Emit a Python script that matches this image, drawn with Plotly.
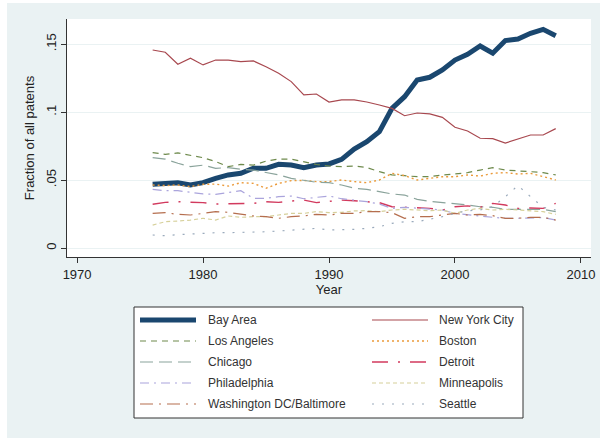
import plotly.graph_objects as go

years = list(range(1976, 2009))

bay_area = [0.0469, 0.0476, 0.0481, 0.0464, 0.0481, 0.0513, 0.0538, 0.0550, 0.0587, 0.0587,
            0.0616, 0.0611, 0.0592, 0.0611, 0.0619, 0.0653, 0.0729, 0.0783, 0.0857, 0.1028,
            0.1114, 0.1237, 0.1257, 0.1311, 0.1384, 0.1426, 0.1487, 0.1434, 0.1527, 0.1539,
            0.1581, 0.1610, 0.1563]
new_york = [0.1458, 0.1441, 0.1353, 0.1397, 0.1348, 0.1384, 0.1384, 0.1372, 0.1377, 0.1335,
            0.1286, 0.1225, 0.1127, 0.1134, 0.1075, 0.1090, 0.1090, 0.1075, 0.1053, 0.1028,
            0.0974, 0.0994, 0.0987, 0.0962, 0.0889, 0.0862, 0.0808, 0.0805, 0.0773, 0.0803,
            0.0832, 0.0832, 0.0879]
los_angeles = [0.0702, 0.0690, 0.0700, 0.0685, 0.0665, 0.0636, 0.0599, 0.0616, 0.0610, 0.0640,
               0.0655, 0.0655, 0.0636, 0.0615, 0.0604, 0.0599, 0.0604, 0.0592, 0.0562, 0.0538,
               0.0533, 0.0525, 0.0525, 0.0538, 0.0545, 0.0555, 0.0574, 0.0592, 0.0574, 0.0570,
               0.0562, 0.0555, 0.0538]
boston = [0.0464, 0.0460, 0.0464, 0.0452, 0.0469, 0.0471, 0.0456, 0.0481, 0.0476, 0.0440,
          0.0476, 0.0496, 0.0498, 0.0489, 0.0489, 0.0501, 0.0489, 0.0481, 0.0501, 0.0550,
          0.0533, 0.0501, 0.0513, 0.0525, 0.0525, 0.0538, 0.0530, 0.0550, 0.0555, 0.0545,
          0.0550, 0.0525, 0.0501]
chicago = [0.0665, 0.0655, 0.0624, 0.0599, 0.0610, 0.0587, 0.0592, 0.0580, 0.0574, 0.0557,
           0.0538, 0.0513, 0.0496, 0.0484, 0.0481, 0.0464, 0.0440, 0.0432, 0.0415, 0.0398,
           0.0390, 0.0358, 0.0344, 0.0336, 0.0329, 0.0317, 0.0304, 0.0300, 0.0285, 0.0285,
           0.0285, 0.0285, 0.0268]
detroit = [0.0322, 0.0336, 0.0341, 0.0339, 0.0334, 0.0324, 0.0324, 0.0324, 0.0329, 0.0341,
           0.0336, 0.0346, 0.0353, 0.0334, 0.0346, 0.0353, 0.0348, 0.0341, 0.0334, 0.0304,
           0.0300, 0.0295, 0.0292, 0.0280, 0.0304, 0.0310, 0.0300, 0.0329, 0.0317, 0.0292,
           0.0295, 0.0292, 0.0329]
philadelphia = [0.0432, 0.0422, 0.0422, 0.0410, 0.0398, 0.0395, 0.0410, 0.0422, 0.0366, 0.0366,
                0.0378, 0.0383, 0.0363, 0.0373, 0.0383, 0.0363, 0.0353, 0.0341, 0.0324, 0.0292,
                0.0300, 0.0292, 0.0285, 0.0280, 0.0255, 0.0243, 0.0236, 0.0226, 0.0219, 0.0219,
                0.0219, 0.0224, 0.0206]
minneapolis = [0.0169, 0.0194, 0.0199, 0.0206, 0.0219, 0.0206, 0.0236, 0.0226, 0.0231, 0.0231,
               0.0243, 0.0255, 0.0255, 0.0268, 0.0260, 0.0263, 0.0273, 0.0275, 0.0268, 0.0280,
               0.0285, 0.0280, 0.0275, 0.0280, 0.0255, 0.0280, 0.0292, 0.0280, 0.0285, 0.0280,
               0.0275, 0.0268, 0.0248]
washington = [0.0255, 0.0260, 0.0248, 0.0243, 0.0255, 0.0268, 0.0263, 0.0248, 0.0236, 0.0231,
              0.0219, 0.0231, 0.0236, 0.0248, 0.0243, 0.0255, 0.0255, 0.0268, 0.0268, 0.0260,
              0.0219, 0.0231, 0.0231, 0.0243, 0.0255, 0.0243, 0.0248, 0.0238, 0.0219, 0.0219,
              0.0226, 0.0226, 0.0206]
seattle = [0.0096, 0.0091, 0.0098, 0.0103, 0.0113, 0.0113, 0.0113, 0.0115, 0.0115, 0.0120,
           0.0125, 0.0133, 0.0138, 0.0145, 0.0133, 0.0133, 0.0138, 0.0145, 0.0157, 0.0182,
           0.0194, 0.0194, 0.0211, 0.0231, 0.0255, 0.0275, 0.0280, 0.0304, 0.0378, 0.0460,
           0.0378, 0.0300, 0.0280]

x_ticks = [1970, 1980, 1990, 2000, 2010]
y_ticks = [0, 0.05, 0.1, 0.15]
y_tick_labels = ["0", ".05", ".1", ".15"]

series = [
    ("Bay Area", bay_area, "#1a476f", 5, "solid"),
    ("New York City", new_york, "#a8484f", 1.2, "solid"),
    ("Los Angeles", los_angeles, "#6e8a4c", 1.2, "6px,5px"),
    ("Boston", boston, "#eb9a3a", 1.4, "2px,3px"),
    ("Chicago", chicago, "#8aa39b", 1.2, "13px,6px"),
    ("Detroit", detroit, "#d23a5e", 1.4, "16px,10px,2px,10px"),
    ("Philadelphia", philadelphia, "#aaa4dc", 1.2, "9px,5px,2px,5px"),
    ("Minneapolis", minneapolis, "#d6d09a", 1.2, "4px,3px"),
    ("Washington DC/Baltimore", washington, "#b56e4e", 1.2, "13px,6px,2px,6px"),
    ("Seattle", seattle, "#9aaabc", 1.2, "2px,8px"),
]

fig = go.Figure()
for name, vals, color, width, dash in series:
    fig.add_trace(go.Scatter(x=years, y=vals, mode="lines", name=name, showlegend=False,
                             line=dict(color=color, width=width, dash=dash)))

L, R, T, B = 67, 9, 19, 181
W, H = 600, 438
pw, ph = W - L - R, H - T - B

def px(xp):
    return (xp - L) / pw

def py(yp):
    return (H - B - yp) / ph

shapes = [
    dict(type="rect", xref="paper", yref="paper", x0=px(0), x1=px(7), y0=py(H), y1=py(0),
         fillcolor="white", line=dict(width=0), layer="below"),
    dict(type="rect", xref="paper", yref="paper", x0=px(0), x1=px(W), y0=py(3), y1=py(0),
         fillcolor="white", line=dict(width=0), layer="below"),
    # legend box
    dict(type="rect", xref="paper", yref="paper", x0=px(134), x1=px(523), y0=py(418), y1=py(307),
         fillcolor="white", line=dict(color="#333", width=1), layer="above"),
]
annotations = []
row_y = [320, 341, 362, 383, 404]
col_sym = [(140, 196, 206), (372, 428, 437)]
for i, (name, vals, color, width, dash) in enumerate(series):
    r, c = divmod(i, 2)
    x0, x1, xt = col_sym[c]
    y = row_y[r]
    shapes.append(dict(type="line", xref="paper", yref="paper", x0=px(x0), x1=px(x1),
                       y0=py(y), y1=py(y), layer="above",
                       line=dict(color=color, width=width, dash=dash)))
    annotations.append(dict(xref="paper", yref="paper", x=px(xt), y=py(y), text=name,
                            showarrow=False, xanchor="left", yanchor="middle",
                            font=dict(size=12, color="#333")))

fig.update_layout(
    width=W, height=H,
    margin=dict(l=L, r=R, t=T, b=B, autoexpand=False),
    paper_bgcolor="#eaf2f3",
    plot_bgcolor="white",
    font=dict(family="Liberation Sans, Arial, sans-serif", size=13, color="#222"),
    showlegend=False,
    xaxis=dict(
        range=[1969.2, 2010.8], tickvals=x_ticks, ticks="outside", ticklen=5,
        tickcolor="#333", showline=True, linecolor="#333", linewidth=1,
        showgrid=False, zeroline=False, tickfont=dict(size=13),
        title=dict(text="Year", font=dict(size=13), standoff=2),
    ),
    yaxis=dict(
        range=[-0.0066, 0.1686], tickvals=y_ticks, ticktext=y_tick_labels,
        ticks="outside", ticklen=5, tickcolor="#333", tickangle=-90,
        showline=True, linecolor="#333", linewidth=1,
        showgrid=True, gridcolor="#eaf2f3", gridwidth=1, zeroline=False,
        tickfont=dict(size=13),
        title=dict(text="Fraction of all patents", font=dict(size=13), standoff=6),
    ),
    shapes=shapes,
    annotations=annotations,
)

fig.write_html("out.html", config={"displayModeBar": False},
               post_script="document.body.style.margin='0';")
